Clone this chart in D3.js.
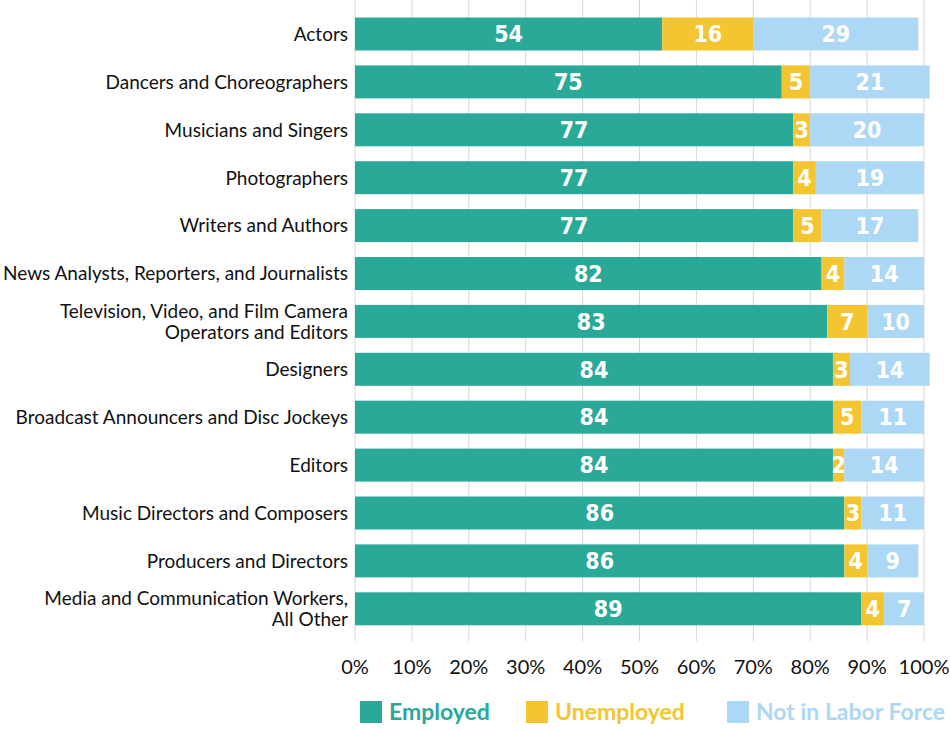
<!DOCTYPE html>
<html>
<head>
<meta charset="utf-8">
<script src="https://cdn.jsdelivr.net/npm/d3@7"></script>
<style>
  body { margin: 0; background: #fff; }
  svg { display: block; }
</style>
</head>
<body>
<div id="chart"></div>
<script>
// Occupations, top to bottom (multi-line labels split with \n)
const categories = [
    "Actors",
    "Dancers and Choreographers",
    "Musicians and Singers",
    "Photographers",
    "Writers and Authors",
    "News Analysts, Reporters, and Journalists",
    "Television, Video, and Film Camera\nOperators and Editors",
    "Designers",
    "Broadcast Announcers and Disc Jockeys",
    "Editors",
    "Music Directors and Composers",
    "Producers and Directors",
    "Media and Communication Workers,\nAll Other"
];
const employed     = [54, 75, 77, 77, 77, 82, 83, 84, 84, 84, 86, 86, 89];
const unemployed   = [16, 5, 3, 4, 5, 4, 7, 3, 5, 2, 3, 4, 4];
const notInLabor   = [29, 21, 20, 19, 17, 14, 10, 14, 11, 14, 11, 9, 7];
const xTicks = [0, 10, 20, 30, 40, 50, 60, 70, 80, 90, 100];

const seriesInfo = [
    { key: "employed", label: "Employed", color: "#2aa898" },
    { key: "unemployed", label: "Unemployed", color: "#f3c631" },
    { key: "notInLabor", label: "Not in Labor Force", color: "#acd7f5" }
];

const width = 950, height = 730;
const margin = { top: 17.5, right: 26, bottom: 104.7, left: 355 };

const rows = categories.map((c, i) => ({
    name: c,
    employed: employed[i],
    unemployed: unemployed[i],
    notInLabor: notInLabor[i]
}));

const svg = d3.select("#chart").append("svg")
    .attr("width", width)
    .attr("height", height);

const x = d3.scaleLinear()
    .domain([0, 100])
    .range([margin.left, width - margin.right]);

const y = d3.scaleBand()
    .domain(categories)
    .range([margin.top, height - margin.bottom])
    .paddingInner(0.311)
    .paddingOuter(0);

const barsBottom = y(categories[categories.length - 1]) + y.bandwidth();

// vertical grid lines, behind the bars
svg.append("g")
    .selectAll("line")
    .data(xTicks)
    .join("line")
    .attr("x1", d => x(d)).attr("x2", d => x(d))
    .attr("y1", 0)
    .attr("y2", barsBottom + 16)
    .attr("stroke", "#d8d8d8")
    .attr("stroke-width", 1);

const stack = d3.stack().keys(seriesInfo.map(s => s.key));
const stacked = stack(rows);

const layers = svg.append("g")
    .selectAll("g")
    .data(stacked)
    .join("g")
    .attr("fill", (d, i) => seriesInfo[i].color);

layers.selectAll("rect")
    .data(d => d)
    .join("rect")
    .attr("x", d => x(d[0]))
    .attr("y", d => y(d.data.name))
    .attr("width", d => x(d[1]) - x(d[0]))
    .attr("height", y.bandwidth());

// value labels inside each segment
layers.selectAll("text")
    .data(d => d)
    .join("text")
    .attr("x", d => (x(d[0]) + x(d[1])) / 2)
    .attr("y", d => y(d.data.name) + y.bandwidth() / 2)
    .attr("dy", "0.36em")
    .attr("text-anchor", "middle")
    .attr("fill", "#fff")
    .style("font-family", "'Liberation Sans Narrow', 'DejaVu Sans Condensed', sans-serif")
    .style("font-weight", "bold")
    .style("font-size", "23px")
    .text(d => d[1] - d[0]);

// category labels
const yAxis = svg.append("g");
yAxis.selectAll("text")
    .data(categories)
    .join("text")
    .attr("x", margin.left - 7)
    .attr("y", d => y(d) + y.bandwidth() / 2)
    .attr("text-anchor", "end")
    .style("font-family", "Lato, sans-serif")
    .style("font-size", "19px")
    .attr("fill", "#111")
    .each(function (d) {
        const lines = d.split("\n");
        const t = d3.select(this);
        lines.forEach((ln, i) => {
            t.append("tspan")
                .attr("x", margin.left - 7)
                .attr("dy", i === 0 ? `${0.36 - (lines.length - 1) * 0.55}em` : "1.1em")
                .text(ln);
        });
    });

// x axis tick labels
svg.append("g")
    .selectAll("text")
    .data(xTicks)
    .join("text")
    .attr("x", d => x(d))
    .attr("y", barsBottom + 41)
    .attr("dy", "0.36em")
    .attr("text-anchor", "middle")
    .style("font-family", "Lato, sans-serif")
    .style("font-size", "20px")
    .attr("fill", "#111")
    .text(d => d + "%");

// legend
const legendX = [360, 526, 727];
const legend = svg.append("g")
    .selectAll("g")
    .data(seriesInfo)
    .join("g")
    .attr("transform", (d, i) => `translate(${legendX[i]},701)`);

legend.append("rect")
    .attr("width", 22)
    .attr("height", 22)
    .attr("fill", d => d.color);

legend.append("text")
    .attr("x", 29)
    .attr("y", 11)
    .attr("dy", "0.36em")
    .attr("fill", d => d.color)
    .style("font-family", "Lato, sans-serif")
    .style("font-weight", "bold")
    .style("font-size", "23px")
    .text(d => d.label);
</script>
</body>
</html>
